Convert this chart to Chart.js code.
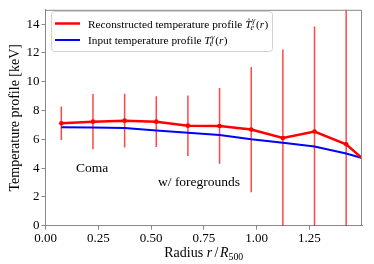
<!DOCTYPE html>
<html>
<head>
<meta charset="utf-8">
<script src="https://cdn.jsdelivr.net/npm/chart.js@4/dist/chart.umd.min.js"></script>
<style>
    html, body { margin: 0; padding: 0; background: #fff; }
    #wrap { width: 374px; height: 264px; position: relative; }
</style>
</head>
<body>
<div id="wrap"><canvas id="myChart"></canvas></div>
<script>
/*               data                */

const radius = [0.075, 0.225, 0.375, 0.525, 0.675, 0.825, 0.975, 1.125, 1.275, 1.425, 1.5];
const reconTemp = [7.12, 7.23, 7.30, 7.23, 6.95, 6.93, 6.68, 6.09, 6.54, 5.66, 4.70];
const reconErr = [1.16, 1.92, 1.86, 1.76, 2.10, 2.63, 4.35, 6.16, 7.30, 10.5, 0];
const inputTemp = [6.84, 6.82, 6.78, 6.61, 6.46, 6.30, 6.00, 5.77, 5.50, 5.02, 4.70];
const xTicks = [0, 0.25, 0.5, 0.75, 1.0, 1.25];
const yTicks = [0, 2, 4, 6, 8, 10, 12, 14];

const serif = "'Liberation Serif', 'Times New Roman', serif";
const spine = '#888';

function font(size, italic) {
    return (italic ? 'italic ' : '') + size + 'px ' + serif;
}

// T_e^gamma(r), optionally with a hat; returns end x
function drawTe(ctx, x, y, size, hat) {
    ctx.textAlign = 'left';
    ctx.font = font(size, true);
    ctx.fillText('T', x, y);
    let wT = ctx.measureText('T').width;
    if (hat) {
        ctx.font = font(size * 0.75, false);
        ctx.textAlign = 'center';
        ctx.fillText('^', x + wT * 0.6, y - size * 0.3);
        ctx.textAlign = 'left';
    }
    let s = size * 0.7;
    ctx.font = font(s, true);
    ctx.fillText('e', x + wT - 1, y + size * 0.22);
    ctx.fillText('\u03B3', x + wT + 0.5, y - size * 0.36);
    let w = Math.max(ctx.measureText('e').width, ctx.measureText('\u03B3').width) + 1;
    x += wT + w;
    ctx.font = font(size, false);
    ctx.fillText('(', x, y);
    x += ctx.measureText('(').width;
    ctx.font = font(size, true);
    ctx.fillText('r', x, y);
    x += ctx.measureText('r').width + 0.5;
    ctx.font = font(size, false);
    ctx.fillText(')', x, y);
    return x;
}

/*               error bars, drawn through the scales                */

const errorBars = {
    id: 'errorBars',
    beforeDatasetsDraw(chart) {
        const ctx = chart.ctx;
        const xs = chart.scales.x, ys = chart.scales.y, area = chart.chartArea;
        ctx.save();
        ctx.beginPath();
        ctx.rect(area.left, area.top, area.right - area.left, area.bottom - area.top);
        ctx.clip();
        ctx.strokeStyle = 'rgba(255, 0, 0, 0.72)';
        ctx.lineWidth = 1.5;
        for (let i = 0; i < radius.length; i++) {
            if (!reconErr[i]) continue;
            let px = xs.getPixelForValue(radius[i]);
            ctx.beginPath();
            ctx.moveTo(px, ys.getPixelForValue(reconTemp[i] - reconErr[i]));
            ctx.lineTo(px, ys.getPixelForValue(reconTemp[i] + reconErr[i]));
            ctx.stroke();
        }
        ctx.restore();
    }
};

/*               frame, legend, labels                */

const decorations = {
    id: 'decorations',
    afterDraw(chart) {
        const ctx = chart.ctx;
        const a = chart.chartArea;
        ctx.save();

        // top and right spines
        ctx.strokeStyle = spine;
        ctx.lineWidth = 1;
        ctx.beginPath();
        ctx.moveTo(a.left, a.top + 0.5);
        ctx.lineTo(a.right - 0.5, a.top + 0.5);
        ctx.lineTo(a.right - 0.5, a.bottom);
        ctx.stroke();

        // legend box
        ctx.beginPath();
        ctx.roundRect(51.5, 11.5, 221, 40, 3);
        ctx.fillStyle = 'rgba(255, 255, 255, 0.8)';
        ctx.fill();
        ctx.strokeStyle = '#d0d0d0';
        ctx.stroke();

        ctx.lineWidth = 2.5;
        ctx.strokeStyle = '#ff0000';
        ctx.beginPath();
        ctx.moveTo(55, 23.5);
        ctx.lineTo(80, 23.5);
        ctx.stroke();
        ctx.lineWidth = 2;
        ctx.strokeStyle = '#0000ff';
        ctx.beginPath();
        ctx.moveTo(55, 40);
        ctx.lineTo(80, 40);
        ctx.stroke();

        ctx.fillStyle = '#000';
        ctx.textBaseline = 'alphabetic';
        ctx.textAlign = 'left';
        let fs = 11.3;
        ctx.font = font(fs, false);
        let t1 = 'Reconstructed temperature profile ';
        ctx.fillText(t1, 88, 27.5);
        drawTe(ctx, 88 + ctx.measureText(t1).width, 27.5, fs, true);
        ctx.font = font(fs, false);
        let t2 = 'Input temperature profile ';
        ctx.fillText(t2, 88, 44);
        drawTe(ctx, 88 + ctx.measureText(t2).width, 44, fs, false);

        // annotations
        ctx.font = font(13.5, false);
        ctx.fillText('Coma', 76, 171.5);
        ctx.fillText('w/ foregrounds', 158, 185.5);

        // x axis title: Radius r / R_500
        let size = 14;
        let parts = [
            { t: 'Radius ', it: false, s: size, dy: 0 },
            { t: 'r', it: true, s: size, dy: 0 },
            { t: '/', it: false, s: size, dy: 0 },
            { t: 'R', it: true, s: size, dy: 0 },
            { t: '500', it: false, s: size * 0.7, dy: size * 0.22 }
        ];
        let total = 0;
        parts.forEach(p => {
            ctx.font = font(p.s, p.it);
            p.w = ctx.measureText(p.t).width + (p.t === '/' || p.t === 'r' ? 2 : 0);
            total += p.w;
        });
        let cx = (a.left + a.right) / 2 - total / 2;
        parts.forEach(p => {
            ctx.font = font(p.s, p.it);
            ctx.fillText(p.t, cx + (p.t === '/' ? 0.5 : 0), 257 + p.dy);
            cx += p.w;
        });

        // y axis title
        ctx.translate(19, (a.top + a.bottom) / 2);
        ctx.rotate(-Math.PI / 2);
        ctx.textAlign = 'center';
        ctx.font = font(14, false);
        ctx.fillText('Temperature profile [keV]', 0, 0);

        ctx.restore();
    }
};

let ctx = document.getElementById('myChart').getContext('2d');
let chart = new Chart(ctx, {
    type: 'line',
    data: {
        datasets: [{
            label: 'Reconstructed temperature profile',
            data: radius.map((r, i) => ({ x: r, y: reconTemp[i] })),
            borderColor: '#ff0000',
            backgroundColor: '#ff0000',
            borderWidth: 2.5,
            pointRadius: radius.map((r, i) => (reconErr[i] ? 2.3 : 0)),
            pointBorderWidth: 0,
            tension: 0
        }, {
            label: 'Input temperature profile',
            data: radius.map((r, i) => ({ x: r, y: inputTemp[i] })),
            borderColor: '#0000ff',
            backgroundColor: '#0000ff',
            borderWidth: 2,
            pointRadius: 0,
            tension: 0
        }]
    },
    options: {
        responsive: true,
        maintainAspectRatio: false,
        animation: false,
        devicePixelRatio: 1,
        layout: { padding: { top: 5, right: 12, left: 0, bottom: 0 } },
        plugins: { legend: { display: false }, tooltip: { enabled: false } },
        scales: {
            x: {
                type: 'linear',
                min: 0,
                max: 1.5,
                afterBuildTicks: s => { s.ticks = xTicks.map(v => ({ value: v })); },
                afterFit: s => { s.height = 38.3; },
                ticks: {
                    color: '#000',
                    font: { family: serif, size: 13 },
                    padding: 1,
                    maxRotation: 0,
                    callback: v => v.toFixed(2)
                },
                grid: { drawOnChartArea: false, tickLength: 4, tickColor: spine },
                border: { color: spine, width: 1 }
            },
            y: {
                min: 0,
                max: 15,
                afterBuildTicks: s => { s.ticks = yTicks.map(v => ({ value: v })); },
                afterFit: s => { s.width = 45.5; },
                ticks: {
                    color: '#000',
                    font: { family: serif, size: 13 },
                    padding: 2,
                    callback: v => v
                },
                grid: { drawOnChartArea: false, tickLength: 4, tickColor: spine },
                border: { color: spine, width: 1 }
            }
        }
    },
    plugins: [errorBars, decorations]
});
</script>
</body>
</html>
